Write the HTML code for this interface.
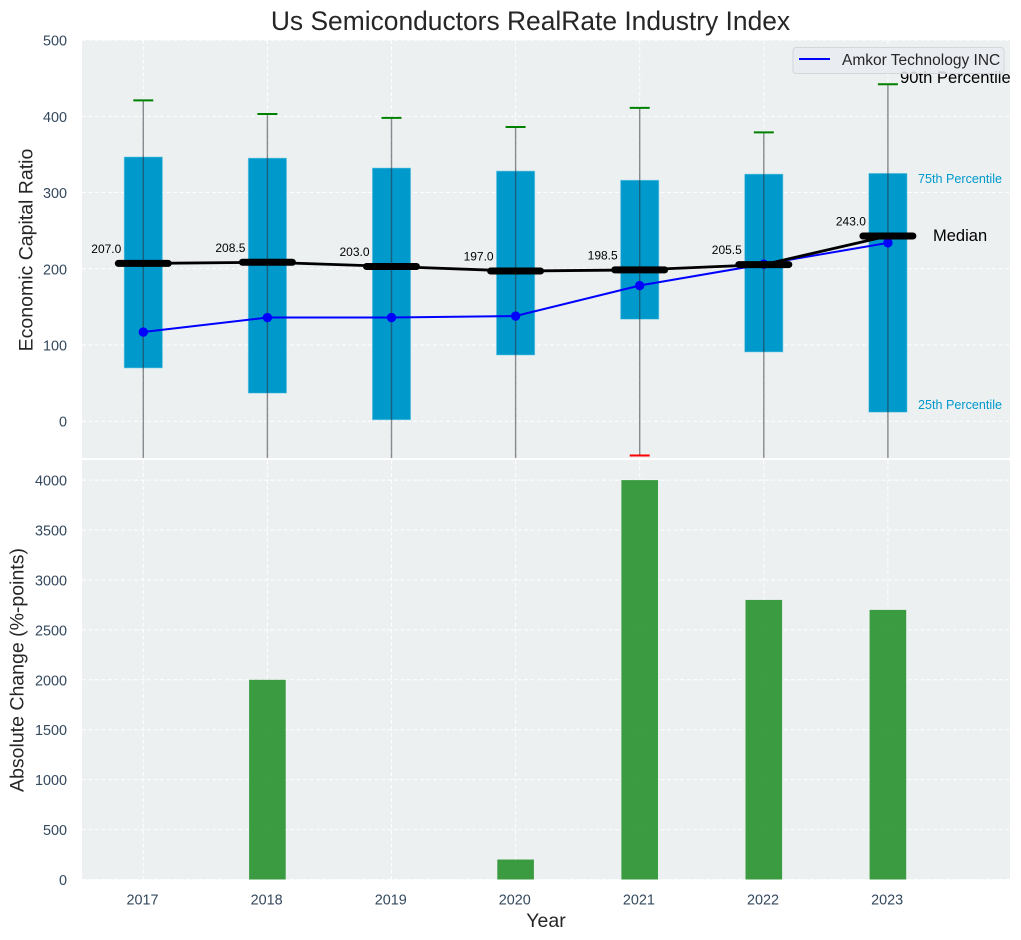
<!DOCTYPE html>
<html>
<head>
<meta charset="utf-8">
<style>
html,body{margin:0;padding:0;background:#fff}
svg{display:block}
text{font-family:"Liberation Sans",Arial,sans-serif}
</style>
</head>
<body>
<svg id="chart" xmlns="http://www.w3.org/2000/svg" width="1021" height="940" viewBox="0 0 1021 940">
  <defs>
    <clipPath id="top-clip"><rect x="82" y="40" width="928" height="418"/></clipPath>
  </defs>
  <text x="530.5" y="30" font-size="26.4" fill="#262626" text-anchor="middle">Us Semiconductors RealRate Industry Index</text>
  <rect x="82" y="40" width="928" height="418" fill="#ecf0f1"/>
  <rect x="82" y="460" width="928" height="419.5" fill="#ecf0f1"/>
  <g id="bottom-grid"></g>
  <g id="top-grid"></g>
  <g id="top-marks" clip-path="url(#top-clip)"></g>
  <g id="bottom-marks"></g>
  <g id="axis-labels"></g>
  <text transform="translate(32.7,250) rotate(-90)" font-size="19.5" fill="#262626" text-anchor="middle">Economic Capital Ratio</text>
  <text transform="translate(23.5,670) rotate(-90)" font-size="19.5" fill="#262626" text-anchor="middle">Absolute Change (%-points)</text>
  <text x="546" y="927" font-size="19.5" fill="#262626" text-anchor="middle">Year</text>
  <text x="900" y="83" font-size="16.6" fill="#000">90th Percentile</text>
  <text x="918" y="183" font-size="12.6" fill="#0099cc">75th Percentile</text>
  <text x="933" y="241" font-size="16.5" fill="#000">Median</text>
  <text x="918" y="409" font-size="12.6" fill="#0099cc">25th Percentile</text>
  <g>
    <rect x="793" y="47.5" width="211" height="26" rx="3" fill="#e9ebf0" fill-opacity="0.85" stroke="#d4d6da" stroke-width="1"/>
    <line x1="799" y1="59" x2="830" y2="59" stroke="#0000ff" stroke-width="2"/>
    <text x="842" y="65" font-size="15.5" fill="#262626">Amkor Technology INC</text>
  </g>
</svg>
<script>
const years = [2017, 2018, 2019, 2020, 2021, 2022, 2023];
const p90 = [421, 403, 398, 386, 411, 379, 442];
const p75 = [346.5, 345, 332, 328, 316, 324, 325];
const p25 = [70, 37, 2, 87, 134, 91, 12];
const p10 = [-70, -80, -90, -60, -45, -65, -75];
const medians = [207.0, 208.5, 203.0, 197.0, 198.5, 205.5, 243.0];
const amkor = [117, 136, 136, 138, 178, 206, 234];
const absChange = [0, 2000, 0, 200, 4000, 2800, 2700];
const topTicks = [0, 100, 200, 300, 400, 500];
const bottomTicks = [0, 500, 1000, 1500, 2000, 2500, 3000, 3500, 4000];

const NS = 'http://www.w3.org/2000/svg';
function x(year) { return 143.3 + (year - 2017) * 124.1; }
function yTop(v) { return 421.2 - v * 0.7622; }
function yBot(v) { return 879.5 - v * 0.09985; }
function make(tag, attrs, parent, content) {
  const el = document.createElementNS(NS, tag);
  for (const k in attrs) el.setAttribute(k, attrs[k]);
  if (content !== undefined) el.textContent = content;
  parent.appendChild(el);
  return el;
}
const topGrid = document.getElementById('top-grid');
const botGrid = document.getElementById('bottom-grid');
const topMarks = document.getElementById('top-marks');
const botMarks = document.getElementById('bottom-marks');
const labels = document.getElementById('axis-labels');
const gridStyle = { stroke: '#ffffff', 'stroke-width': 1, 'stroke-dasharray': '4 2.5', opacity: 0.95 };

topTicks.forEach(function (t) {
  const g = make('line', Object.assign({ x1: 82, x2: 1010, y1: yTop(t), y2: yTop(t) }, gridStyle), topGrid);
  
  
  const l = make('text', { x: 67, y: yTop(t) + 5.5, 'font-size': 14.4, fill: '#34495e', 'text-anchor': 'end' }, labels, String(t));
  
  
});
bottomTicks.forEach(function (t) {
  const g = make('line', Object.assign({ x1: 82, x2: 1010, y1: yBot(t), y2: yBot(t) }, gridStyle), botGrid);
  
  
  const l = make('text', { x: 67, y: yBot(t) + 5.5, 'font-size': 14.4, fill: '#34495e', 'text-anchor': 'end' }, labels, String(t));
  
  
});
years.forEach(function (yr) {
  const a = make('line', Object.assign({ x1: x(yr), x2: x(yr), y1: 40, y2: 458 }, gridStyle), topGrid);
  
  
  const b = make('line', Object.assign({ x1: x(yr), x2: x(yr), y1: 460, y2: 879.5 }, gridStyle), botGrid);
  
  
  const l = make('text', { x: x(yr) - 0.8, y: 904.5, 'font-size': 14.4, fill: '#34495e', 'text-anchor': 'middle' }, labels, String(yr));
  
  
});

// boxes
years.forEach(function (yr, i) {
  const box = make('rect', { x: x(yr) - 19, width: 38, y: yTop(p75[i]), height: yTop(p25[i]) - yTop(p75[i]), fill: '#0099cc', stroke: '#33b5dd', 'stroke-opacity': 0.5, 'stroke-width': 1 }, topMarks);
  
  
  const w = make('line', { x1: x(yr), x2: x(yr), y1: yTop(p90[i]), y2: yTop(p10[i]), stroke: '#2b3238', 'stroke-opacity': 0.55, 'stroke-width': 1.4 }, topMarks);
  
  
  const hi = make('line', { x1: x(yr) - 10, x2: x(yr) + 10, y1: yTop(p90[i]), y2: yTop(p90[i]), stroke: '#008000', 'stroke-width': 2 }, topMarks);
  
  
  const lo = make('line', { x1: x(yr) - 10, x2: x(yr) + 10, y1: yTop(p10[i]), y2: yTop(p10[i]), stroke: '#ff0000', 'stroke-width': 2 }, topMarks);
  
  
});

// amkor line
const amkorPts = years.map(function (yr, i) { return x(yr) + ',' + yTop(amkor[i]); }).join(' ');
const amkorLine = make('polyline', { points: amkorPts, fill: 'none', stroke: '#0000ff', 'stroke-width': 2 }, topMarks);


years.forEach(function (yr, i) {
  const c = make('circle', { cx: x(yr), cy: yTop(amkor[i]), r: 4.7, fill: '#0000ff' }, topMarks);
  
  
});

// median line and bars
const medPts = years.map(function (yr, i) { return x(yr) + ',' + yTop(medians[i]); }).join(' ');
const medLine = make('polyline', { points: medPts, fill: 'none', stroke: '#000', 'stroke-width': 2.8 }, topMarks);


years.forEach(function (yr, i) {
  const m = make('line', { x1: x(yr) - 25, x2: x(yr) + 25, y1: yTop(medians[i]), y2: yTop(medians[i]), stroke: '#000', 'stroke-width': 7, 'stroke-linecap': 'round' }, topMarks);
  
  
  const t = make('text', { x: x(yr) - 22, y: yTop(medians[i]) - 10.5, 'font-size': 12, fill: '#000', 'text-anchor': 'end' }, topMarks, medians[i].toFixed(1));
  
  
});

// bottom bars
years.forEach(function (yr, i) {
  const r = make('rect', { x: x(yr) - 18.3, width: 36.6, y: yBot(absChange[i]), height: 879.5 - yBot(absChange[i]), fill: '#2b9431', 'fill-opacity': 0.92 }, botMarks);
  
  
});
</script>
</body>
</html>
